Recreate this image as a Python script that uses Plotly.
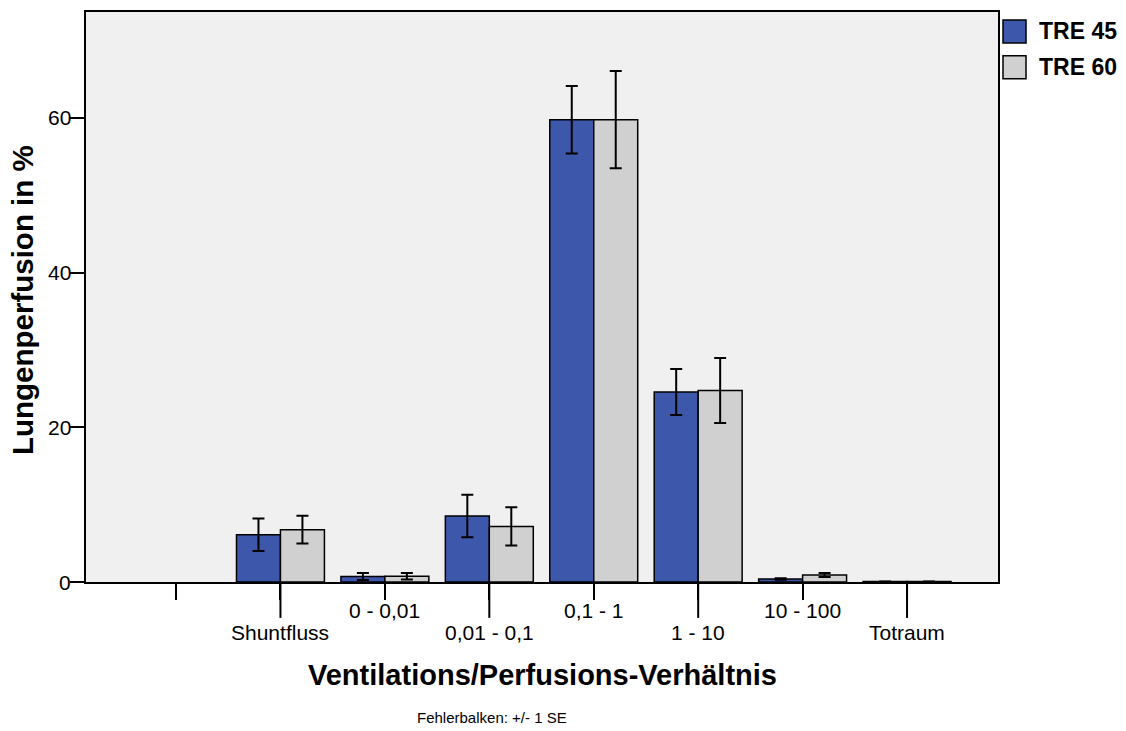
import plotly.graph_objects as go

# V/Q-Verteilung: Anteil der Lungenperfusion je Klasse (Mittelwert +/- 1 SE)
categories = ["", "Shuntfluss", "0 - 0,01", "0,01 - 0,1", "0,1 - 1", "1 - 10", "10 - 100", "Totraum"]
tre45 = [None, 6.12, 0.72, 8.53, 59.78, 24.56, 0.40, 0.05]
tre45_se = [None, 2.10, 0.45, 2.75, 4.36, 2.97, 0.10, 0.0]
tre60 = [None, 6.77, 0.75, 7.19, 59.78, 24.77, 0.90, 0.05]
tre60_se = [None, 1.78, 0.42, 2.47, 6.28, 4.20, 0.25, 0.0]
series_names = ["TRE 45", "TRE 60"]
y_ticks = [0, 20, 40, 60]

FONT = "Arial, Liberation Sans, sans-serif"
BLUE = "#3d57ab"
GREY = "#d0d0d0"

W, H = 1126, 731
M_L, M_R, M_T, M_B = 86, 128, 10, 149
plot_w = W - M_L - M_R
plot_h = H - M_T - M_B

positions = list(range(len(categories)))

fig = go.Figure()
for name, vals, se, col in [(series_names[0], tre45, tre45_se, BLUE),
                            (series_names[1], tre60, tre60_se, GREY)]:
    fig.add_trace(go.Bar(
        x=positions, y=vals, name=name,
        marker=dict(color=col, line=dict(color="black", width=1.5)),
        error_y=dict(type="data", array=se, visible=True,
                     color="black", thickness=2, width=6),
        showlegend=False,
    ))

x_lo, x_hi = -0.862, 7.871
y_hi = 73.7
fig.update_layout(
    width=W, height=H,
    margin=dict(l=M_L, r=M_R, t=M_T, b=M_B),
    paper_bgcolor="white",
    plot_bgcolor="#f0f0f0",
    barmode="group",
    bargap=0.158,
    bargroupgap=0,
    font=dict(family=FONT, color="black"),
    xaxis=dict(
        range=[x_lo, x_hi], tickvals=positions, showticklabels=False,
        ticks="outside", ticklen=16, tickwidth=2, tickcolor="black",
        showline=True, linecolor="black", linewidth=1.5, mirror=True,
        showgrid=False, zeroline=False,
    ),
    yaxis=dict(
        range=[0, y_hi], tickvals=y_ticks, showticklabels=False,
        ticks="outside", ticklen=14, tickwidth=1.5, tickcolor="black",
        showline=True, linecolor="black", linewidth=1.5, mirror=True,
        showgrid=False, zeroline=False,
    ),
)

# y tick labels set flush against the tick marks
for v in y_ticks:
    fig.add_annotation(x=-14 / plot_w, xref="paper", y=v, yref="y",
                       xanchor="right", yanchor="middle", text=str(v),
                       showarrow=False, xshift=1,
                       font=dict(size=21, family=FONT, color="black"))

# staggered category labels: every second tick is longer, label sits lower
long_px = 36
for i, cat in enumerate(categories):
    lower = i % 2 == 1
    if lower:
        fig.add_shape(type="line", xref="x", yref="paper",
                      x0=i, x1=i, y0=0, y1=-long_px / plot_h,
                      line=dict(color="black", width=2))
    if cat:
        fig.add_annotation(x=i, xref="x", y=0, yref="paper",
                           yanchor="top", xanchor="center",
                           yshift=-37 if lower else -15,
                           text=cat, showarrow=False,
                           font=dict(size=21, family=FONT, color="black"))

# axis titles
fig.add_annotation(x=0.5, xref="paper",
                   y=-(675 - (M_T + plot_h)) / plot_h, yref="paper",
                   text="<b>Ventilations/Perfusions-Verhältnis</b>",
                   showarrow=False, xanchor="center", yanchor="middle",
                   font=dict(size=29, family=FONT, color="black"))
fig.add_annotation(x=-(M_L - 23) / plot_w, xref="paper",
                   y=1 - (299 - M_T) / plot_h, yref="paper",
                   text="<b>Lungenperfusion in %</b>", textangle=-90,
                   showarrow=False, xanchor="center", yanchor="middle",
                   font=dict(size=29.5, family=FONT, color="black"))
fig.add_annotation(x=(492 - M_L) / plot_w, xref="paper",
                   y=-(718 - (M_T + plot_h)) / plot_h, yref="paper",
                   text="Fehlerbalken: +/- 1 SE", showarrow=False,
                   xanchor="center", yanchor="middle",
                   font=dict(size=15, family=FONT, color="black"))

# legend boxes with labels
for k, (name, col) in enumerate(zip(series_names, [BLUE, GREY])):
    top = 18 + 36 * k
    x0 = (1003 - M_L) / plot_w
    x1 = (1026 - M_L) / plot_w
    y0 = 1 - (top - M_T) / plot_h
    y1 = 1 - (top + 23 - M_T) / plot_h
    fig.add_shape(type="rect", xref="paper", yref="paper",
                  x0=x0, x1=x1, y0=y1, y1=y0,
                  fillcolor=col, line=dict(color="black", width=1.5))
    fig.add_annotation(x=(1037 - M_L) / plot_w, xref="paper",
                       y=1 - (top + 11 - M_T) / plot_h, yref="paper",
                       text=f"<b>{name}</b>", showarrow=False,
                       xanchor="left", yanchor="middle",
                       font=dict(size=23, family=FONT, color="black"))

fig.write_html("out.html")
